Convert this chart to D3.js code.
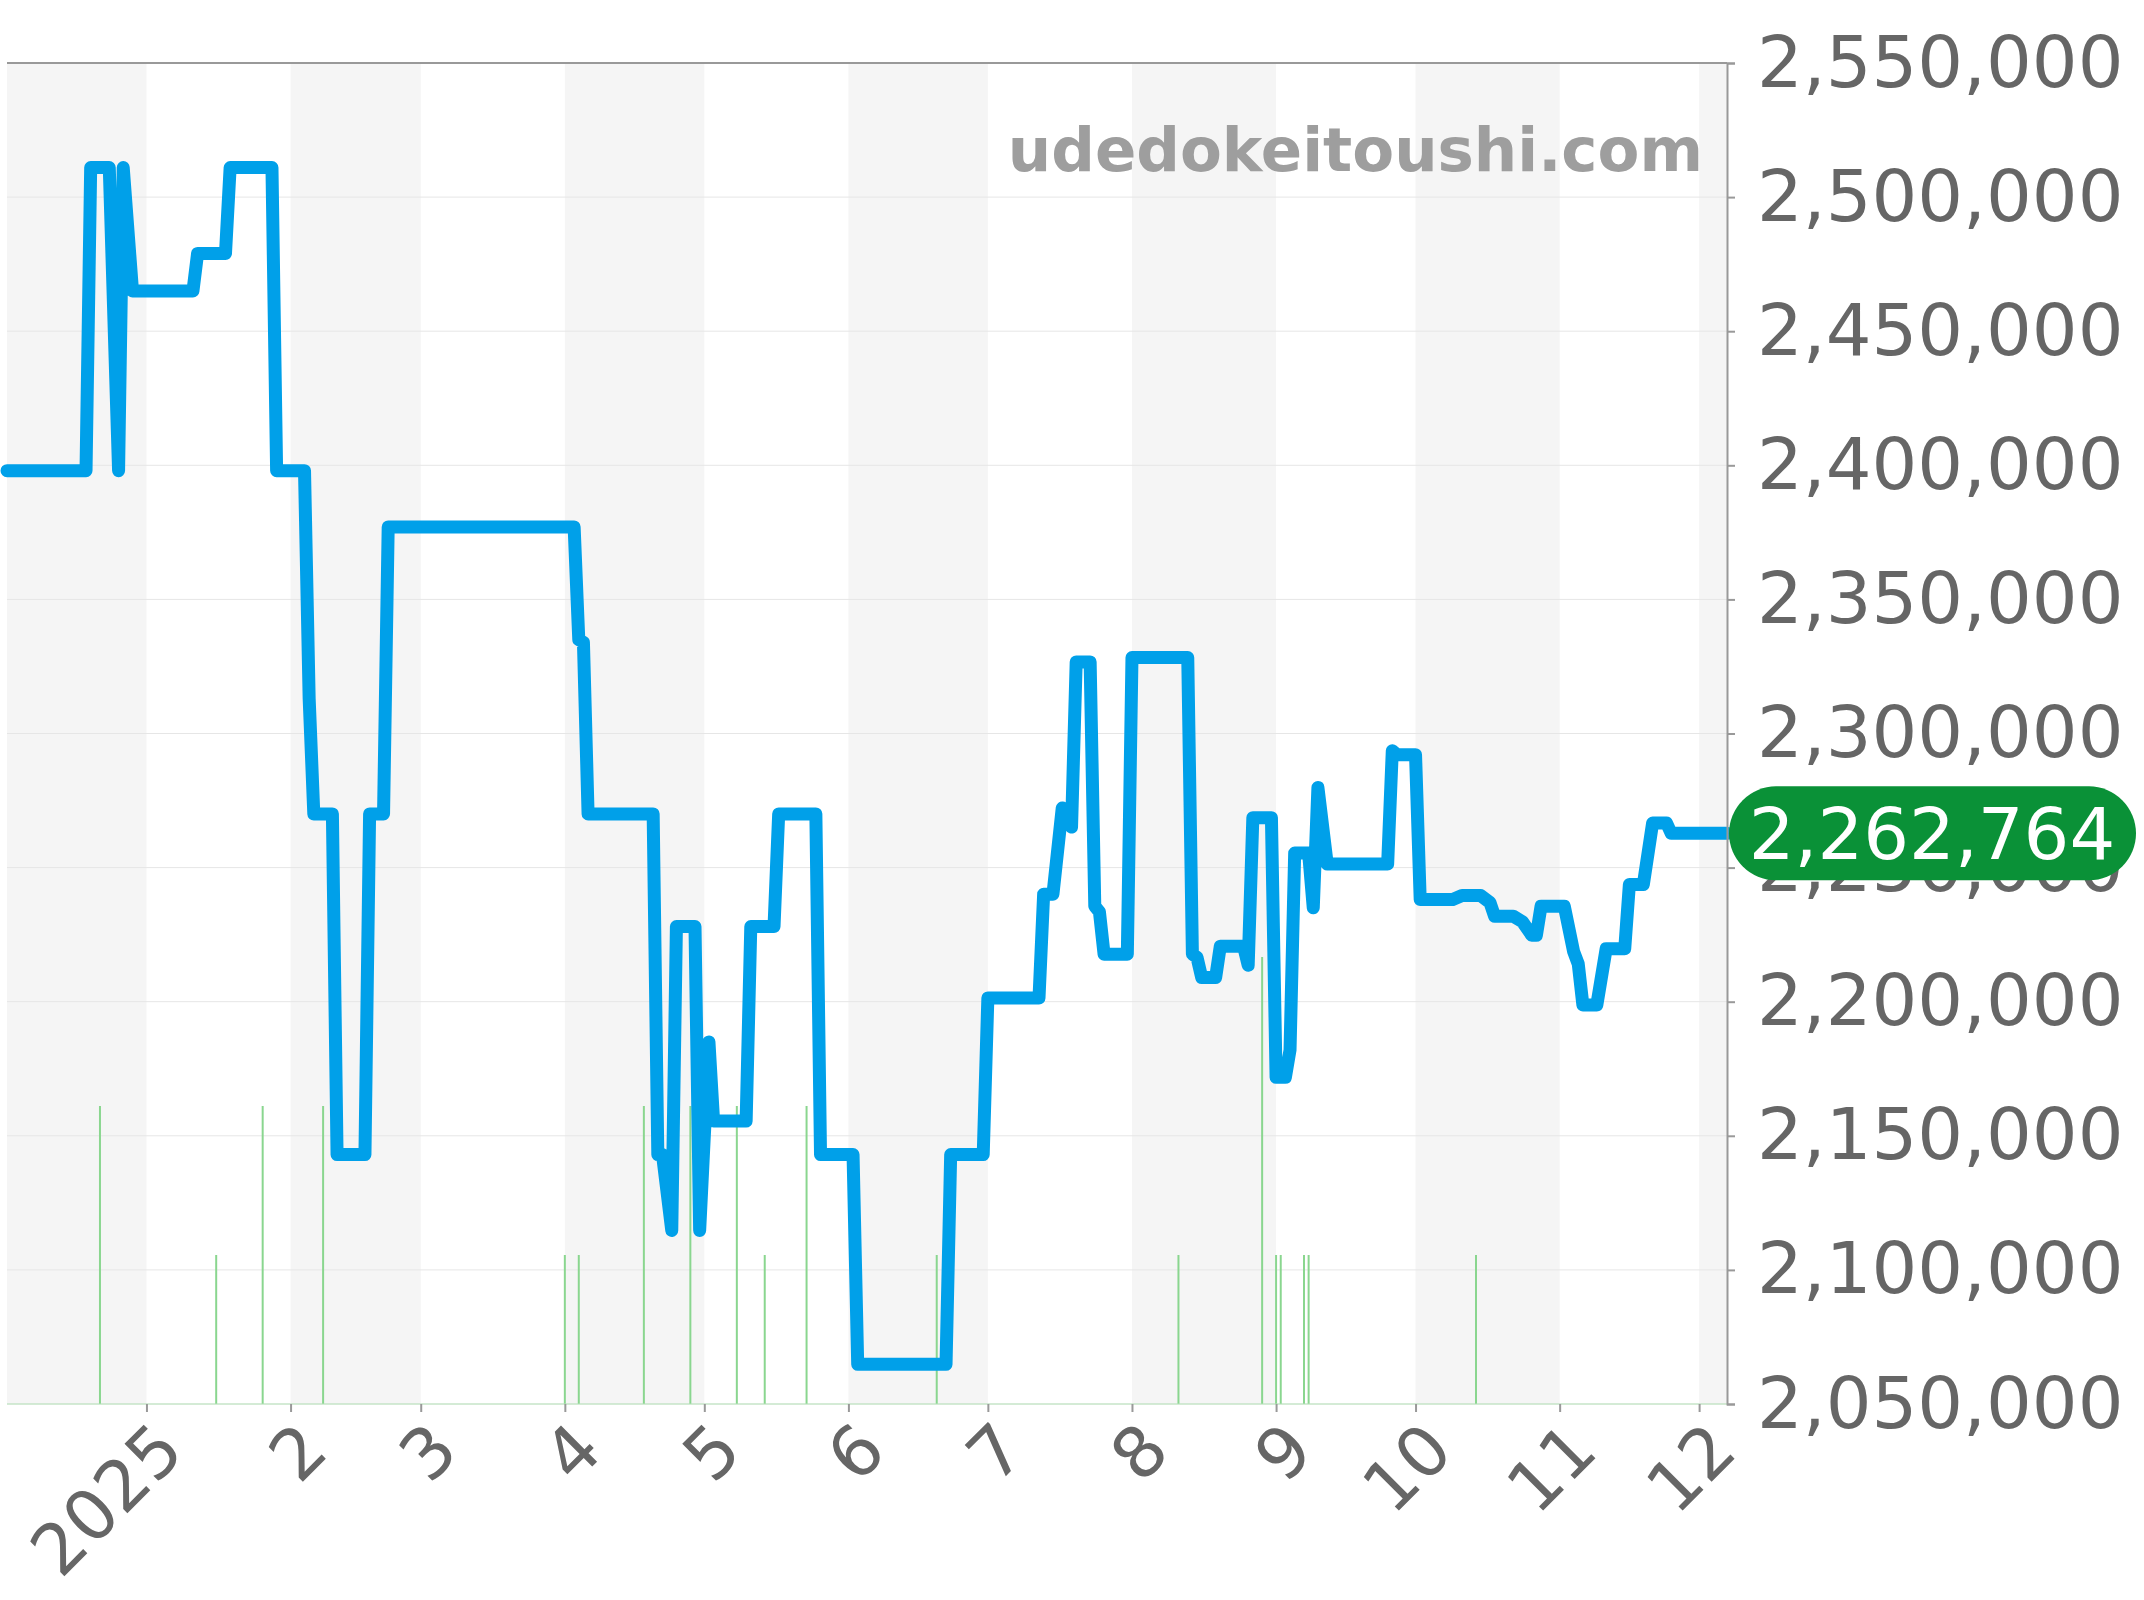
<!DOCTYPE html>
<html><head><meta charset="utf-8">
<script src="https://cdn.jsdelivr.net/npm/d3@7"></script>
<style>body{margin:0;background:#fff}svg{display:block;font-family:"DejaVu Sans",sans-serif}</style>
</head><body><svg id="c" width="2144" height="1600"></svg>
<script>
// price steps
const priceDates = ["2024-12-02","2024-12-19","2024-12-20","2024-12-24","2024-12-26","2024-12-27","2024-12-29","2025-01-11","2025-01-12","2025-01-18","2025-01-19","2025-01-28","2025-01-29","2025-02-04","2025-02-05","2025-02-06","2025-02-10","2025-02-11","2025-02-17","2025-02-18","2025-02-21","2025-02-22","2025-04-03","2025-04-04","2025-04-05","2025-04-06","2025-04-20","2025-04-21","2025-04-22","2025-04-24","2025-04-25","2025-04-29","2025-04-30","2025-05-02","2025-05-03","2025-05-10","2025-05-11","2025-05-16","2025-05-17","2025-05-25","2025-05-26","2025-06-02","2025-06-03","2025-06-22","2025-06-23","2025-06-30","2025-07-01","2025-07-12","2025-07-13","2025-07-15","2025-07-17","2025-07-19","2025-07-20","2025-07-23","2025-07-24","2025-07-25","2025-07-26","2025-07-31","2025-08-01","2025-08-13","2025-08-14","2025-08-15","2025-08-16","2025-08-19","2025-08-20","2025-08-25","2025-08-26","2025-08-27","2025-08-31","2025-09-01","2025-09-03","2025-09-04","2025-09-05","2025-09-08","2025-09-09","2025-09-10","2025-09-12","2025-09-25","2025-09-26","2025-09-27","2025-10-01","2025-10-02","2025-10-09","2025-10-11","2025-10-15","2025-10-17","2025-10-18","2025-10-22","2025-10-24","2025-10-26","2025-10-27","2025-10-28","2025-11-02","2025-11-04","2025-11-05","2025-11-06","2025-11-09","2025-11-11","2025-11-15","2025-11-16","2025-11-19","2025-11-21","2025-11-24","2025-11-25","2025-12-07"];
const priceValues = [2398000,2398000,2511000,2511000,2398000,2511000,2465000,2465000,2479000,2479000,2511000,2511000,2398000,2398000,2313000,2270000,2270000,2143000,2143000,2270000,2270000,2377000,2377000,2335000,2334000,2270000,2270000,2143000,2143000,2114700,2228000,2228000,2114700,2185000,2155500,2155500,2228000,2228000,2270000,2270000,2143000,2143000,2064800,2064800,2143000,2143000,2201400,2201400,2240100,2240100,2272200,2265100,2326700,2326700,2235600,2233500,2217700,2217700,2328300,2328300,2217700,2216500,2209000,2209000,2220700,2220700,2213600,2268600,2268600,2171800,2171800,2182000,2255400,2255400,2235000,2279900,2251300,2251300,2293600,2292100,2292100,2238100,2238100,2239600,2239600,2237000,2231900,2231900,2229800,2224800,2224800,2235600,2235600,2218700,2214100,2198800,2198800,2219700,2219700,2243700,2243700,2266600,2266600,2262764,2262764];
// trade volume marks
const volDates = ["2024-12-22","2025-01-16","2025-01-26","2025-02-08","2025-04-01","2025-04-04","2025-04-18","2025-04-28","2025-05-08","2025-05-14","2025-05-23","2025-06-20","2025-08-11","2025-08-29","2025-09-01","2025-09-02","2025-09-07","2025-09-08","2025-10-14"];
const volValues = [2,1,2,2,1,1,2,2,2,1,2,1,1,3,1,1,1,1,1];
const yTicks = [2050000,2100000,2150000,2200000,2250000,2300000,2350000,2400000,2450000,2500000,2550000];
const monthLabels = ["2025","2","3","4","5","6","7","8","9","10","11","12"];
const lastPrice = 2262764;

const p = d3.timeParse("%Y-%m-%d");
const svg = d3.select("#c");
const L = 7, R = 1727, T = 63, B = 1404;
const x = d3.scaleTime().domain([p("2024-12-02"), p("2025-12-07")]).range([L, R]);
const y = d3.scaleLinear().domain([2050000, 2550000]).range([B, T]);
const v = d3.scaleLinear().domain([0, 9]).range([B, T]);
const months = d3.range(0, 12).map(i => new Date(2025, i, 1));

// shaded alternate months
const bands = [p("2024-12-02"), ...months, p("2025-12-07")];
for (let i = 0; i < bands.length - 1; i += 2) {
  svg.append("rect").attr("x", x(bands[i])).attr("y", T)
    .attr("width", x(bands[i + 1]) - x(bands[i])).attr("height", B - T).attr("fill", "#f5f5f5");
}
svg.selectAll(".grid").data(yTicks).enter().append("line")
  .attr("x1", L).attr("x2", R).attr("y1", d => y(d)).attr("y2", d => y(d))
  .attr("stroke", "#e6e6e6").attr("stroke-width", 1);
svg.append("line").attr("x1", L).attr("x2", R).attr("y1", T).attr("y2", T).attr("stroke", "#999").attr("stroke-width", 2);

// volume bars
svg.selectAll(".vol").data(volDates).enter().append("line")
  .attr("x1", d => x(p(d))).attr("x2", d => x(p(d)))
  .attr("y1", B).attr("y2", (d, i) => v(volValues[i]))
  .attr("stroke", "#8ad68f").attr("stroke-width", 2);
svg.append("line").attr("x1", L).attr("x2", R).attr("y1", B).attr("y2", B).attr("stroke", "#b5e3b8").attr("stroke-width", 1);

svg.append("text").attr("x", 1703).attr("y", 171).attr("text-anchor", "end")
  .attr("font-size", 61).attr("font-weight", "bold").attr("fill", "#9e9e9e").text("udedokeitoushi.com");

// price line
const pts = priceDates.map((d, i) => [x(p(d)), y(priceValues[i])]);
svg.append("path").attr("d", d3.line()(pts)).attr("fill", "none")
  .attr("stroke", "#00a0e9").attr("stroke-width", 13).attr("stroke-linejoin", "round").attr("stroke-linecap", "round");

// y axis
const ya = svg.append("g").attr("transform", `translate(${R},0)`)
  .call(d3.axisRight(y).tickValues(yTicks).tickSize(8).tickPadding(22).tickFormat(d3.format(",")));
ya.select(".domain").attr("stroke", "#999").attr("stroke-width", 2);
ya.selectAll("line").attr("stroke", "#999").attr("stroke-width", 2);
ya.selectAll("text").attr("font-size", 72).attr("fill", "#666").attr("font-family", "DejaVu Sans");

// x axis
const xa = svg.append("g").attr("transform", `translate(0,${B})`)
  .call(d3.axisBottom(x).tickValues(months).tickSize(8).tickFormat((d, i) => monthLabels[i]));
xa.select(".domain").remove();
xa.selectAll("line").attr("stroke", "#999").attr("stroke-width", 2);
xa.selectAll("text").attr("font-size", 70).attr("fill", "#666").attr("font-family", "DejaVu Sans")
  .attr("text-anchor", "end").attr("dy", 0).attr("transform", "translate(32,42) rotate(-45)");

// last price badge
const by = y(lastPrice);
svg.append("rect").attr("x", 1729).attr("y", by - 47).attr("width", 407).attr("height", 94)
  .attr("rx", 47).attr("fill", "#0a9137");
svg.append("text").attr("x", 1932).attr("y", by + 26).attr("text-anchor", "middle")
  .attr("font-size", 72).attr("fill", "#fff").text(d3.format(",")(lastPrice));
</script></body></html>
